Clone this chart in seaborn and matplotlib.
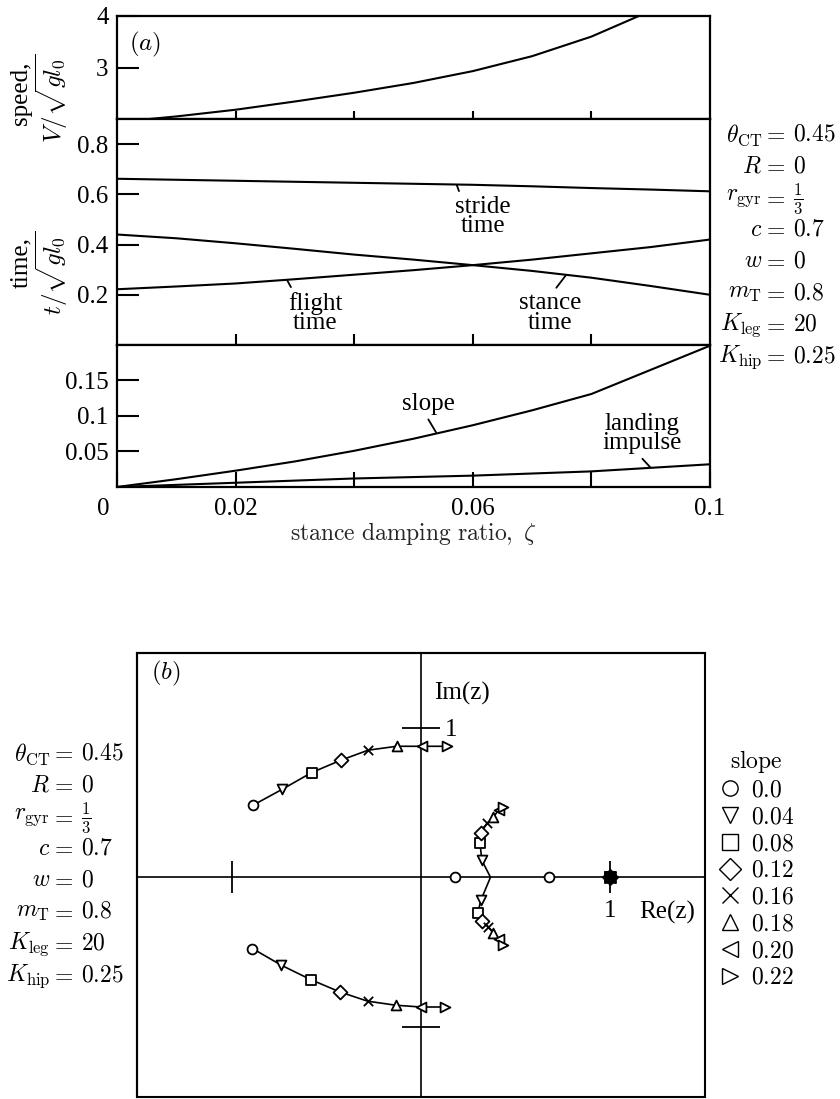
import matplotlib
matplotlib.use("Agg")
import matplotlib.pyplot as plt
import matplotlib.transforms as mtransforms
from matplotlib.lines import Line2D
from matplotlib.patches import Rectangle
import seaborn as sns

sns.set_theme(style="white")
plt.rcParams["font.family"] = ["Liberation Serif", "DejaVu Serif"]
plt.rcParams["mathtext.fontset"] = "cm"
plt.rcParams["axes.edgecolor"] = "black"
plt.rcParams["axes.linewidth"] = 1.5
plt.rcParams["text.color"] = "black"
plt.rcParams["xtick.color"] = "black"
plt.rcParams["ytick.color"] = "black"

# ---------------- data: panel (a) ----------------
zeta = [0.0, 0.01, 0.02, 0.03, 0.04, 0.05, 0.06, 0.07, 0.08, 0.09, 0.1]
zeta_speed = [0.0, 0.01, 0.02, 0.03, 0.04, 0.05, 0.06, 0.07, 0.08, 0.09]
speed = [1.94, 2.05, 2.18, 2.34, 2.51, 2.70, 2.93, 3.22, 3.60, 4.10]
stride_time = [0.662, 0.658, 0.654, 0.650, 0.646, 0.642, 0.638, 0.632, 0.625, 0.619, 0.612]
flight_time = [0.222, 0.233, 0.245, 0.262, 0.280, 0.298, 0.318, 0.340, 0.365, 0.390, 0.420]
stance_time = [0.440, 0.425, 0.405, 0.383, 0.360, 0.340, 0.318, 0.295, 0.268, 0.235, 0.200]
slope_curve = [0.000, 0.011, 0.023, 0.036, 0.051, 0.068, 0.087, 0.108, 0.131, 0.165, 0.199]
landing_impulse = [0.000, 0.003, 0.006, 0.009, 0.012, 0.014, 0.016, 0.019, 0.022, 0.027, 0.032]

param_names = [r"$\theta_{\mathrm{CT}}$", r"$R$", r"$r_{\mathrm{gyr}}$", r"$c$",
               r"$w$", r"$m_{\mathrm{T}}$", r"$K_{\mathrm{leg}}$", r"$K_{\mathrm{hip}}$"]
param_values = [r"$0.45$", r"$0$", r"$\frac{1}{3}$", r"$0.7$",
                r"$0$", r"$0.8$", r"$20$", r"$0.25$"]

# ---------------- data: panel (b) root locus ----------------
slopes = ["0.0", "0.04", "0.08", "0.12", "0.16", "0.18", "0.20", "0.22"]
slope_markers = ["o", "v", "s", "D", "x", "^", "<", ">"]
# outer complex pair
re_a_up = [-0.887, -0.732, -0.578, -0.423, -0.279, -0.129, 0.004, 0.136]
im_a_up = [0.482, 0.589, 0.700, 0.783, 0.850, 0.876, 0.876, 0.876]
re_a_lo = [-0.890, -0.737, -0.582, -0.429, -0.282, -0.134, 0.000, 0.127]
im_a_lo = [-0.477, -0.589, -0.685, -0.767, -0.829, -0.856, -0.868, -0.868]
# inner pair: real at slope 0, complex afterwards
re_b_real0 = [0.180, 0.674]
re_b_break = 0.367
re_b_up = [0.321, 0.312, 0.316, 0.348, 0.381, 0.410, 0.432]
im_b_up = [0.114, 0.227, 0.294, 0.361, 0.400, 0.450, 0.468]
re_b_lo = [0.316, 0.300, 0.320, 0.355, 0.380, 0.410, 0.435]
im_b_lo = [-0.154, -0.240, -0.290, -0.330, -0.370, -0.410, -0.455]
# unit eigenvalue present for every slope
re_unit = 1.0

W, H = 840, 1099
fig = plt.figure(figsize=(W / 100, H / 100), dpi=100)
fig.patch.set_facecolor("white")


def box(left, top, right, bottom):
    return [left / W, 1 - bottom / H, (right - left) / W, (bottom - top) / H]


ax_v = fig.add_axes(box(117, 16, 710, 119))
ax_t = fig.add_axes(box(117, 119, 710, 345))
ax_s = fig.add_axes(box(117, 345, 710, 487))
ax_b = fig.add_axes(box(137, 653, 705, 1097))

lw = 1.5
sns.lineplot(x=zeta_speed, y=speed, ax=ax_v, color="black", linewidth=lw, sort=False)
for series in (stride_time, flight_time, stance_time):
    sns.lineplot(x=zeta, y=series, ax=ax_t, color="black", linewidth=lw, sort=False)
for series in (slope_curve, landing_impulse):
    sns.lineplot(x=zeta, y=series, ax=ax_s, color="black", linewidth=lw, sort=False)

for ax, xlen in ((ax_v, 6), (ax_t, 8), (ax_s, 11)):
    ax.set_xlim(0, 0.1)
    ax.set_facecolor("white")
    for sp in ax.spines.values():
        sp.set_visible(True)
        sp.set_linewidth(1.6)
        sp.set_color("black")
    ax.tick_params(axis="x", direction="in", length=xlen, width=1.5, bottom=True,
                   top=False, labelbottom=False, pad=8, labelsize=18)
    ax.tick_params(axis="y", direction="in", length=16, width=1.5, left=True,
                   right=False, pad=6, labelsize=18)
    ax.set_xlabel("")
    ax.set_ylabel("")

ax_v.set_xticks([0.02, 0.04, 0.06, 0.08])
ax_t.set_xticks([0.02, 0.04, 0.06, 0.08])
ax_s.set_xticks([0.0, 0.02, 0.04, 0.06, 0.08, 0.1])
ax_s.set_xticklabels(["0", "0.02", "", "0.06", "", "0.1"])
ax_s.tick_params(axis="x", labelbottom=True)
zero_lbl = ax_s.xaxis.get_major_ticks()[0].label1
zero_lbl.set_transform(zero_lbl.get_transform() +
                       mtransforms.ScaledTranslation(-0.14, 0, fig.dpi_scale_trans))

ax_v.set_ylim(2, 4)
ax_v.set_yticks([3, 4])
ax_v.set_yticklabels(["3", "4"])
ax_t.set_ylim(0, 0.9)
ax_t.set_yticks([0.2, 0.4, 0.6, 0.8])
ax_t.set_yticklabels(["0.2", "0.4", "0.6", "0.8"])
ax_s.set_ylim(0, 0.2)
ax_s.set_yticks([0.05, 0.1, 0.15])
ax_s.set_yticklabels(["0.05", "0.1", "0.15"])

ax_s.set_xlabel(r"$\mathrm{stance\ damping\ ratio,}\ \zeta$", fontsize=17, labelpad=0)

ax_v.text(0.047, 0.72, r"$(a)$", transform=ax_v.transAxes, fontsize=18,
          ha="center", va="center")

# curve labels with leader lines
lead = dict(arrowstyle="-", color="black", lw=1.3, shrinkA=1, shrinkB=0)
ax_t.annotate("stride\ntime", xy=(0.0573, 0.637), xytext=(0.0617, 0.512),
              ha="center", va="center", fontsize=18, linespacing=0.85,
              arrowprops=dict(lead, relpos=(0.1, 1.0)))
ax_t.annotate("flight\ntime", xy=(0.0287, 0.258), xytext=(0.0334, 0.128),
              ha="center", va="center", fontsize=18, linespacing=0.85,
              arrowprops=dict(lead, relpos=(0.1, 1.0)))
ax_t.annotate("stance\ntime", xy=(0.0757, 0.278), xytext=(0.0730, 0.128),
              ha="center", va="center", fontsize=18, linespacing=0.85,
              arrowprops=dict(lead, relpos=(0.55, 1.0)))
ax_s.annotate("slope", xy=(0.0538, 0.077), xytext=(0.0525, 0.117),
              ha="center", va="center", fontsize=18,
              arrowprops=dict(lead, relpos=(0.45, 0.0)))
ax_s.annotate("landing\nimpulse", xy=(0.0899, 0.028), xytext=(0.0886, 0.075),
              ha="center", va="center", fontsize=18, linespacing=0.85,
              arrowprops=dict(lead, relpos=(0.45, 0.0)))

# axis titles of panel (a)
fig.text(21 / W, 1 - 93 / H, "speed,", rotation=90, ha="center", va="center", fontsize=18)
fig.text(52 / W, 1 - 98 / H, r"$V/\sqrt{g l_0}$", rotation=90, ha="center", va="center", fontsize=18)
fig.text(21 / W, 1 - 262 / H, "time,", rotation=90, ha="center", va="center", fontsize=18)
fig.text(52 / W, 1 - 273 / H, r"$t/\sqrt{g l_0}$", rotation=90, ha="center", va="center", fontsize=18)


def param_block(name_right, y_top, step=31.7):
    # name right-aligned before "=", value left-aligned after it
    for i, (name, val) in enumerate(zip(param_names, param_values)):
        y = 1 - (y_top + i * step) / H
        fig.text(name_right / W, y, name, ha="right", va="center", fontsize=17)
        fig.text(name_right / W, y, r"$=$", ha="left", va="center", fontsize=17)
        fig.text((name_right + 31) / W, y, val, ha="left", va="center", fontsize=17)


param_block(762, 135)
param_block(50, 754)

# ---------------- panel (b) ----------------
ax_b.set_facecolor("white")
ax_b.set_xlim(-1.5, 1.5)
ax_b.set_ylim(-1.47, 1.5)
lw_b = 1.2
sns.lineplot(x=re_a_up, y=im_a_up, ax=ax_b, color="black", linewidth=lw_b, sort=False)
sns.lineplot(x=re_a_lo, y=im_a_lo, ax=ax_b, color="black", linewidth=lw_b, sort=False)
sns.lineplot(x=[re_b_break] + re_b_up, y=[0.0] + im_b_up, ax=ax_b, color="black",
             linewidth=lw_b, sort=False)
sns.lineplot(x=[re_b_break] + re_b_lo, y=[0.0] + im_b_lo, ax=ax_b, color="black",
             linewidth=lw_b, sort=False)

for i, (lab, mk) in enumerate(zip(slopes, slope_markers)):
    xs = [re_a_up[i], re_a_lo[i]]
    ys = [im_a_up[i], im_a_lo[i]]
    if i == 0:
        xs += re_b_real0
        ys += [0.0, 0.0]
    else:
        xs += [re_b_up[i - 1], re_b_lo[i - 1]]
        ys += [im_b_up[i - 1], im_b_lo[i - 1]]
    if mk == "x":
        sns.scatterplot(x=xs, y=ys, ax=ax_b, marker=mk, s=45, color="black",
                        linewidth=1.3, zorder=3)
    else:
        sns.scatterplot(x=xs, y=ys, ax=ax_b, marker=mk, s=50, facecolor="white",
                        edgecolor="black", linewidth=1.3, zorder=3)
        # the unit eigenvalue is shared by every slope, so its markers pile up
        sns.scatterplot(x=[re_unit], y=[0.0], ax=ax_b, marker=mk, s=60,
                        color="black", edgecolor="black", linewidth=1.3, zorder=3)

for sp in ax_b.spines.values():
    sp.set_visible(True)
    sp.set_color("black")
    sp.set_linewidth(1.5)
ax_b.spines["bottom"].set_position(("data", 0))
ax_b.spines["right"].set_position(("data", 0))
ax_b.spines["bottom"].set_linewidth(1.2)
ax_b.spines["right"].set_linewidth(1.2)
ax_b.add_patch(Rectangle((0, 0), 1, 1, transform=ax_b.transAxes, fill=False,
                         edgecolor="black", linewidth=1.5, clip_on=False, zorder=5))
ax_b.xaxis.set_ticks_position("bottom")
ax_b.yaxis.set_ticks_position("right")
ax_b.set_xticks([-1, 1])
ax_b.set_xticklabels(["", "1"])
ax_b.set_yticks([-1, 1])
ax_b.set_yticklabels(["", "1"])
ax_b.tick_params(axis="x", direction="inout", length=23, width=1.3, pad=5, labelsize=18)
ax_b.tick_params(axis="y", direction="inout", length=28, width=1.3, pad=3, labelsize=18)
ax_b.set_xlabel("")
ax_b.set_ylabel("")
ax_b.text(1.30, -0.235, "Re(z)", ha="center", va="center", fontsize=18)
ax_b.text(0.217, 1.23, "Im(z)", ha="center", va="center", fontsize=18)
ax_b.text(-1.35, 1.36, r"$(b)$", ha="center", va="center", fontsize=18)

handles = [Line2D([], [], marker=mk, linestyle="", markersize=11,
                  markerfacecolor="none", markeredgecolor="black",
                  markeredgewidth=1.0, color="black")
           for mk in slope_markers]
fig.legend(handles, ["$" + s + "$" for s in slopes], title=r"$\mathrm{slope}$",
           loc="upper left", bbox_to_anchor=(718 / W, 1 - 748 / H), frameon=False,
           fontsize=17, title_fontsize=17, handletextpad=0.4, labelspacing=0.22,
           handlelength=1.0, borderpad=0.0, borderaxespad=0.0)

fig.savefig("out.png", dpi=100, facecolor="white")
